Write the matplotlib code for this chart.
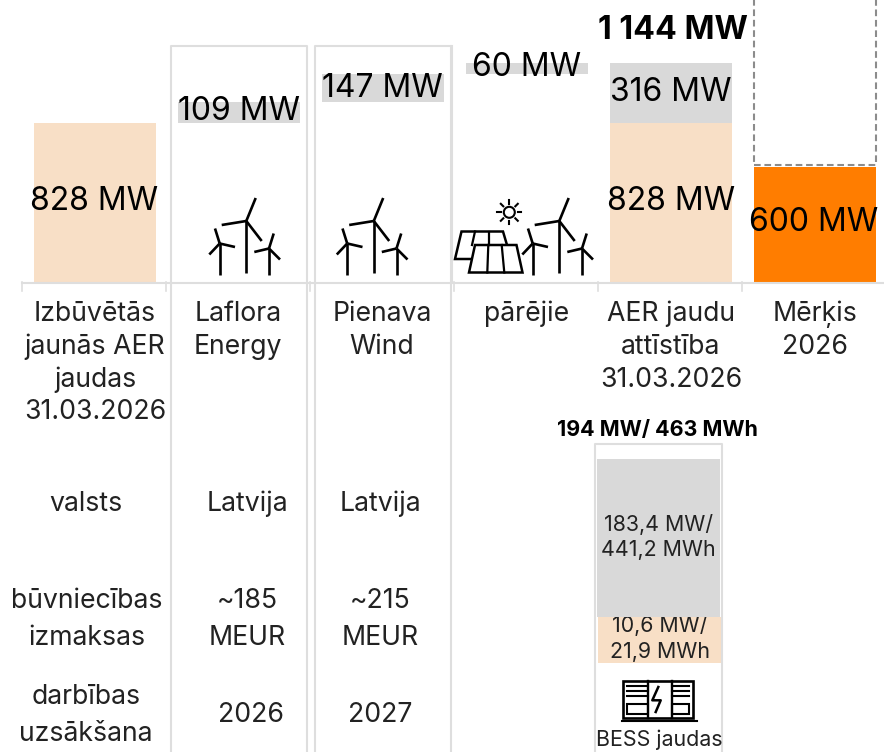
#!/usr/bin/env python3
import matplotlib
matplotlib.use("Agg")
import matplotlib.pyplot as plt
from matplotlib.patches import Circle, Polygon, Rectangle
import numpy as np

plt.rcParams["font.family"] = ["Inter", "DejaVu Sans"]

W, H = 884, 752
BASE_PX = 282
PX_PER_MW = 0.1917
COL_PX = 144
COL0_PX = 95

GREY = "#d9d9d9"
PEACH = "#f8dfc6"
ORANGE = "#ff7d00"
LINE = "#dedede"

# dati
installed = 828
projects = ["Laflora Energy", "Pienava Wind", "pārējie"]
project_mw = [109, 147, 60]
pipeline = 316
total = 1144
target = 600
target_dash_from = 610
target_dash_to = 1600

category_lines = [
    ["Izbūvētās", "jaunās AER", "jaudas", "31.03.2026"],
    ["Laflora", "Energy"],
    ["Pienava", "Wind"],
    ["pārējie"],
    ["AER jaudu", "attīstība", "31.03.2026"],
    ["Mērķis", "2026"],
]
row_labels = [["valsts"], ["būvniecības", "izmaksas"], ["darbības", "uzsākšana"]]
laflora_row = ["Latvija", ["~185", "MEUR"], "2026"]
pienava_row = ["Latvija", ["~215", "MEUR"], "2027"]
bess_total = "194 MW/ 463 MWh"
bess_grey = ["183,4 MW/", "441,2 MWh"]
bess_peach = ["10,6 MW/", "21,9 MWh"]


def lines(ax, x, baselines, texts, size, color="#222222", **kw):
    for y, t in zip(baselines, texts):
        ax.text(x, y, t, ha="center", va="baseline", fontsize=size, color=color, **kw)


def turbine(ax, hub, base_y, tips, lw=1.9):
    ax.plot([hub[0], hub[0]], [hub[1], base_y], color="black", lw=lw, solid_capstyle="butt")
    for tip in tips:
        ax.plot([hub[0], tip[0]], [hub[1], tip[1]], color="black", lw=lw, solid_capstyle="butt")


def turbines(ax, dx):
    turbine(ax, (246.3 + dx, 221), 273, [(255.7 + dx, 198), (221.7 + dx, 225), (261.7 + dx, 241)])
    turbine(ax, (219.7 + dx, 243.5), 275, [(215 + dx, 228.5), (235 + dx, 247), (209.3 + dx, 254.5)])
    turbine(ax, (269 + dx, 248.5), 275, [(273.7 + dx, 233.5), (254.3 + dx, 252), (280 + dx, 259.5)])


def solar(ax):
    back = [(461.5, 231.5), (503, 231.5), (507, 245), (502, 259), (455, 259)]
    front = [(475, 245), (516.5, 245), (522.5, 272.5), (469, 272.5)]
    ax.add_patch(Polygon(back, closed=True, fill=False, ec="black", lw=1.8))
    ax.add_patch(Polygon(front, closed=True, fc="white", ec="black", lw=1.8))
    ax.plot([475, 472], [231.5, 245], color="black", lw=1.6)
    ax.plot([489.3, 489.3], [231.5, 245], color="black", lw=1.6)
    ax.plot([488.3, 487.3], [245, 272.5], color="black", lw=1.6)
    ax.plot([501.7, 504.3], [245, 272.5], color="black", lw=1.6)
    sx, sy = 509.3, 212.3
    ax.add_patch(Circle((sx, sy), 5.5, fill=False, ec="black", lw=1.5))
    for a in np.arange(0, 360, 45):
        ca, sa = np.cos(np.radians(a)), np.sin(np.radians(a))
        ax.plot([sx + 8.5 * ca, sx + 12 * ca], [sy + 8.5 * sa, sy + 12 * sa], color="black", lw=1.5)


def bess_icon(ax):
    ax.add_patch(Rectangle((623, 680.5), 70, 37.5, fill=False, ec="black", lw=1.9))
    ax.plot([622, 697], [720.5, 720.5], color="black", lw=1.5)
    for x0, x1 in [(627, 648), (672, 689)]:
        for y in [685.5, 690.5, 695.5]:
            ax.plot([x0, x1], [y, y], color="black", lw=1.5)
        ax.add_patch(Rectangle((x0, 703.5), x1 - x0, 10.5, fill=False, ec="black", lw=1.5))
    ax.plot([648, 648], [681, 718], color="black", lw=1.7)
    ax.plot([672, 672], [681, 718], color="black", lw=1.7)
    ax.plot([658.3, 652.3, 660.7, 655.7], [687, 700.3, 700.3, 712], color="black", lw=1.8)


def main():
    fig = plt.figure(figsize=(W / 100, H / 100), dpi=100)

    # MW asis: x = kolonnas, y = MW
    ax = fig.add_axes([0, 0, 1, 1])
    ax.set_xlim(-COL0_PX / COL_PX, (W - COL0_PX) / COL_PX)
    ax.set_ylim(-(H - BASE_PX) / PX_PER_MW, BASE_PX / PX_PER_MW)
    ax.axis("off")

    width = 122 / COL_PX
    ax.bar(0, installed, width=width, color=PEACH)
    bottom = installed
    for i, v in enumerate(project_mw):
        ax.bar(i + 1, v, width=width, bottom=bottom, color=GREY)
        bottom += v
    ax.bar(4, installed, width=width, color=PEACH)
    ax.bar(4, pipeline, width=width, bottom=installed, color=GREY)
    ax.bar(5, target, width=width, color=ORANGE)
    ax.bar(5, target_dash_to - target_dash_from, width=width, bottom=target_dash_from,
           fill=False, edgecolor="#8c8c8c", linestyle=(0, (3.2, 1.8)), linewidth=1.5)

    # pikseļu slānis: rāmji, teksti, ikonas
    px = fig.add_axes([0, 0, 1, 1], facecolor="none")
    px.set_xlim(0, W)
    px.set_ylim(H, 0)
    px.axis("off")

    for x0, x1 in [(170.5, 306.5), (314.5, 450.5)]:
        px.plot([x0, x0, x1, x1], [H + 5, 46, 46, H + 5], color=LINE, lw=1.5)
    px.plot([452, 452], [46, BASE_PX], color=LINE, lw=1.5)
    px.plot([22, W], [BASE_PX + 0.5, BASE_PX + 0.5], color=LINE, lw=1.5)
    for x in [22, 166, 310, 454, 598, 742]:
        px.plot([x, x], [BASE_PX, 291], color=LINE, lw=1.2)

    mw_size = 23.0
    px.text(94, 210, f"{installed} MW", ha="center", va="baseline", fontsize=mw_size, color="black")
    px.text(239, 120.5, f"{project_mw[0]} MW", ha="center", va="baseline", fontsize=mw_size, color="black")
    px.text(382, 97, f"{project_mw[1]} MW", ha="center", va="baseline", fontsize=mw_size, color="black")
    px.text(526.5, 76, f"{project_mw[2]} MW", ha="center", va="baseline", fontsize=mw_size, color="black")
    px.text(671, 101, f"{pipeline} MW", ha="center", va="baseline", fontsize=mw_size, color="black")
    px.text(671, 210, f"{installed} MW", ha="center", va="baseline", fontsize=mw_size, color="black")
    px.text(814, 231, f"{target} MW", ha="center", va="baseline", fontsize=mw_size, color="black")
    px.text(673, 39, "1 144 MW", ha="center", va="baseline", fontsize=23.2,
            color="black", fontweight="bold")

    label_size = 19.2
    lines(px, 95, [321, 354, 387, 419], category_lines[0], label_size)
    lines(px, 238, [321, 354], category_lines[1], label_size)
    lines(px, 382, [321, 354], category_lines[2], label_size)
    lines(px, 527, [321], category_lines[3], label_size)
    lines(px, 671, [321, 354, 387], category_lines[4], label_size)
    lines(px, 815, [321, 354], category_lines[5], label_size)

    lines(px, 86, [511], row_labels[0], label_size)
    lines(px, 86.5, [608, 645], row_labels[1], label_size)
    lines(px, 86, [704, 741], row_labels[2], label_size)

    for x, row in [(247, laflora_row), (380, pienava_row)]:
        lines(px, x, [511], [row[0]], label_size)
        lines(px, x, [608, 645], row[1], label_size)
    lines(px, 251, [722], [laflora_row[2]], label_size)
    lines(px, 380, [722], [pienava_row[2]], label_size)

    # BESS bloks: pelēkais virs teksta, lai apgriež 10,6 MW rindu
    px.plot([594.5, 594.5, 722, 722], [H + 5, 444, 444, H + 5], color=LINE, lw=1.5)
    px.add_patch(Rectangle((598, 617), 123, 46, fc=PEACH, ec="none", zorder=1))
    lines(px, 657, [436], [bess_total], 15.4, color="black", fontweight="bold")
    lines(px, 659.5, [632.5, 658], bess_peach, 15.4)
    px.add_patch(Rectangle((597, 459), 123, 158, fc=GREY, ec="none", zorder=4))
    for y, t in zip([531, 556.5], bess_grey):
        px.text(658.5, y, t, ha="center", va="baseline", fontsize=15.4, color="#222222", zorder=5)
    lines(px, 659, [746], ["BESS jaudas"], 15.4)
    bess_icon(px)

    turbines(px, 0)
    turbines(px, 127.5)
    turbines(px, 313)
    solar(px)

    fig.savefig("out.png", dpi=100)
    plt.close(fig)


if __name__ == "__main__":
    main()
